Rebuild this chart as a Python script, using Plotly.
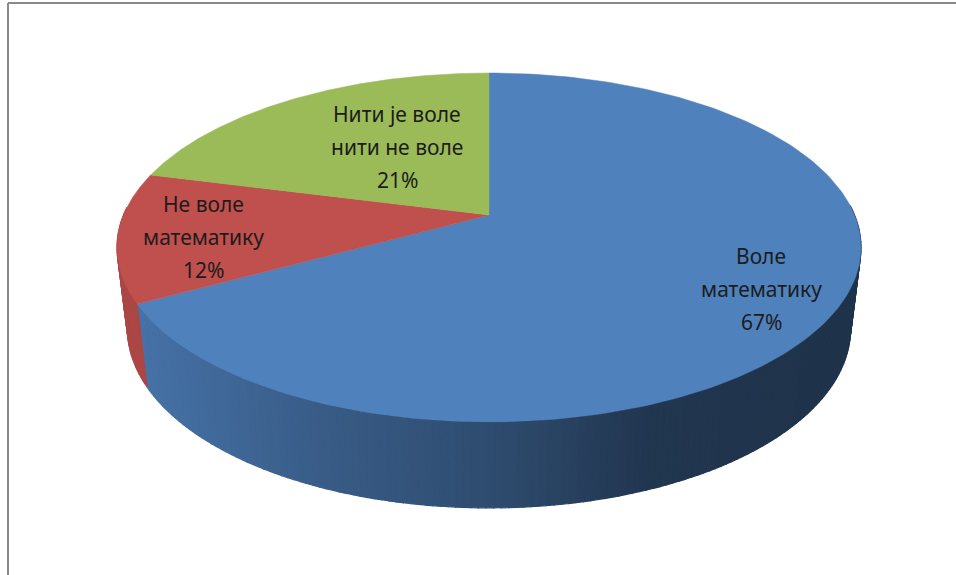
import numpy as np
import plotly.graph_objects as go

# ---- data ----
categories = ["Воле математику", "Не воле математику", "Нити је воле нити не воле"]
values = [67, 12, 21]
label_lines = [["Воле", "математику"], ["Не воле", "математику"], ["Нити је воле", "нити не воле"]]
top_colors = [(79, 129, 189), (192, 80, 77), (155, 187, 89)]

# ---- geometry (pixel space, perspective-projected disc) ----
CX, CY = 489.0, 215.0
A, B, K = 365.5, 168.4, 0.186
BOTTOM_SCALE = 0.972


def proj(u, v, f=1.0):
    den = 1 + K * f * v
    return CX + A * f * u / den, CY - B * f * v / den


def depth(v):
    return 80 - 6 * v


def shade(x):
    return np.interp(x, [130, 300, 500, 650, 870], [0.89, 0.73, 0.58, 0.42, 0.39])


def rgb(c, s=1.0):
    return "rgb(%d,%d,%d)" % tuple(int(round(ch * s)) for ch in c)


total = float(sum(values))
bounds = np.concatenate([[0], np.cumsum(values)]) / total * 360.0

fig = go.Figure()

# side walls
for i, val in enumerate(values):
    a0, a1 = bounds[i], bounds[i + 1]
    n = max(2, int(np.ceil((a1 - a0) / 1.0)))
    angs = np.linspace(a0, a1, n + 1)
    for j in range(n):
        t0, t1 = np.radians(angs[j]), np.radians(angs[j + 1])
        vm = np.cos((t0 + t1) / 2)
        if vm > 0.05:
            continue
        x0, y0 = proj(np.sin(t0), np.cos(t0))
        x1, y1 = proj(np.sin(t1), np.cos(t1))
        d0, d1 = depth(np.cos(t0)), depth(np.cos(t1))
        bx0 = CX + (x0 - CX) * BOTTOM_SCALE
        bx1 = CX + (x1 - CX) * BOTTOM_SCALE
        col = rgb(top_colors[i], shade((x0 + x1) / 2))
        fig.add_trace(go.Scatter(
            x=[x0, x1, bx1, bx0, x0], y=[y0, y1, y1 + d1, y0 + d0, y0],
            mode="lines", fill="toself", fillcolor=col,
            line=dict(color=col, width=1.2), hoverinfo="skip", showlegend=False))

# top faces
for i, val in enumerate(values):
    angs = np.radians(np.linspace(bounds[i], bounds[i + 1], 200))
    xs, ys = proj(np.sin(angs), np.cos(angs))
    px = np.concatenate([[CX], xs, [CX]])
    py = np.concatenate([[CY], ys, [CY]])
    col = rgb(top_colors[i])
    fig.add_trace(go.Scatter(
        x=px, y=py, mode="lines", fill="toself", fillcolor=col,
        line=dict(color=col, width=0.5), hoverinfo="text", text=categories[i],
        showlegend=False))

# labels
label_frac = [0.8, 0.8, 0.55]
label_nudge = [(0, 0), (10, 5), (22, 0)]
LINE = 33
for i, val in enumerate(values):
    mid = np.radians((bounds[i] + bounds[i + 1]) / 2)
    lx, ly = proj(np.sin(mid), np.cos(mid), label_frac[i])
    lx += label_nudge[i][0]
    ly += label_nudge[i][1]
    lines = label_lines[i] + ["%d%%" % val]
    for k, txt in enumerate(lines):
        fig.add_annotation(
            x=lx, y=ly + (k - (len(lines) - 1) / 2) * LINE, text=txt,
            showarrow=False, xanchor="center", yanchor="middle",
            font=dict(family="Noto Sans, Open Sans, sans-serif", size=21, color="#1c1c1c"))

# chart frame (top and left edges visible)
fig.add_shape(type="line", x0=8, y0=3, x1=956, y1=3, line=dict(color="#8a8a8a", width=2), layer="above")
fig.add_shape(type="line", x0=8, y0=3, x1=8, y1=575, line=dict(color="#8a8a8a", width=2), layer="above")

fig.update_layout(
    width=956, height=575, margin=dict(l=0, r=0, t=0, b=0),
    paper_bgcolor="white", plot_bgcolor="white", showlegend=False,
    xaxis=dict(range=[0, 956], visible=False, fixedrange=True),
    yaxis=dict(range=[575, 0], visible=False, fixedrange=True),
)

fig.write_html("out.html")
